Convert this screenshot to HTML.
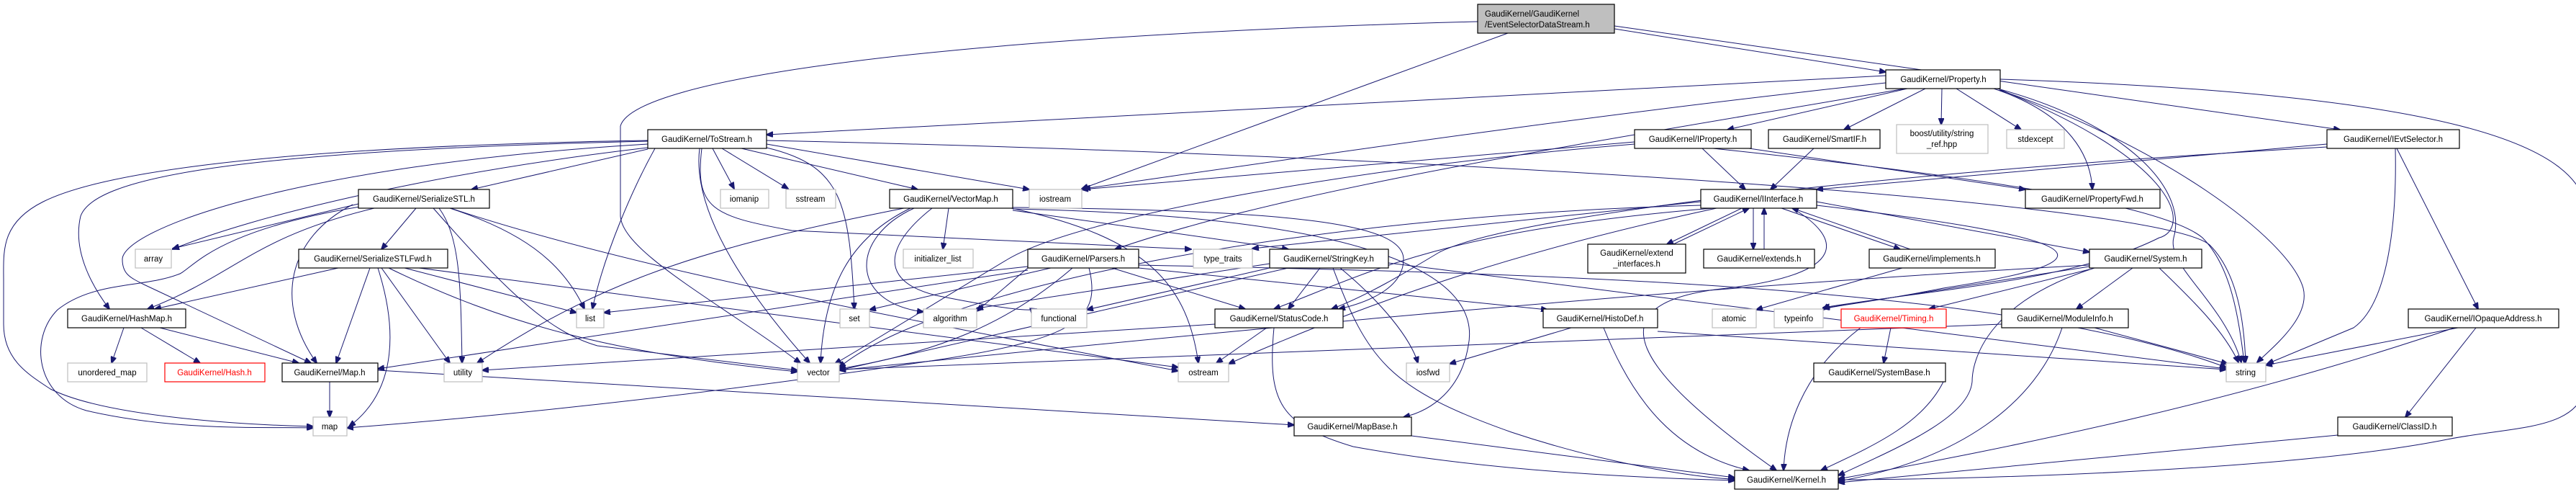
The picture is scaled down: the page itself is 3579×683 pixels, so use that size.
<!DOCTYPE html>
<html><head><meta charset="utf-8"><style>
html,body{margin:0;padding:0;background:#fff;}
svg{display:block;}
text{font-family:"Liberation Sans",sans-serif;font-size:11.5px;fill:#000;}
.n{fill:#fff;stroke:#000;stroke-width:1.2;}
.g{fill:#fff;stroke:#bfbfbf;stroke-width:1.2;}
.r{fill:#fff;stroke:#ff0000;stroke-width:1.2;}
.e path{fill:none;stroke:#191970;stroke-width:1;}
</style></head><body>
<svg width="3579" height="683" viewBox="0 0 3579 683" xmlns="http://www.w3.org/2000/svg">
<defs><marker id="a" markerUnits="userSpaceOnUse" markerWidth="10" markerHeight="8" refX="9" refY="4" orient="auto"><path d="M0,0 L10,4 L0,8 z" fill="#191970" stroke="#191970"/></marker></defs>
<g class="e" marker-end="url(#a)">
<path marker-end="url(#a)" d="M2243,40 L2620,100"/>
<path marker-end="url(#a)" d="M2243,36 L3251,180"/>
<path marker-end="url(#a)" d="M2095,46 L1503,262"/>
<path marker-end="url(#a)" d="M2053,30 C1300,50 880,110 862,175 L862,300 C865,350 1000,420 1112,504"/>
<path marker-end="url(#a)" d="M2620,105 L1065,187"/>
<path marker-end="url(#a)" d="M2650,123 L2400,180"/>
<path marker-end="url(#a)" d="M2675,123 L2562,180"/>
<path marker-end="url(#a)" d="M2698,123 L2697,173"/>
<path marker-end="url(#a)" d="M2718,123 L2808,180"/>
<path marker-end="url(#a)" d="M2770,123 C2880,160 2905,220 2907,263"/>
<path marker-end="url(#a)" d="M2779,110 C3400,130 3594,200 3594,300 L3594,520 C3594,600 3500,590 3400,610 C3200,650 2800,665 2554,666"/>
<path marker-end="url(#a)" d="M2775,123 C2950,170 3040,260 3020,330 C3010,370 3090,420 3114,503"/>
<path marker-end="url(#a)" d="M2778,125 C3000,200 3180,330 3200,400 C3210,440 3160,480 3136,503"/>
<path marker-end="url(#a)" d="M2780,125 C3040,230 3040,320 3000,330 C2880,390 2700,400 2533,427"/>
<path marker-end="url(#a)" d="M2647,123 C2200,200 1800,260 1549,346"/>
<path marker-end="url(#a)" d="M2620,115 C2200,160 1800,220 1506,262"/>
<path marker-end="url(#a)" d="M990,206 L1020,262"/>
<path marker-end="url(#a)" d="M1003,206 L1095,262"/>
<path marker-end="url(#a)" d="M1030,206 L1275,263"/>
<path marker-end="url(#a)" d="M1065,200 L1430,263"/>
<path marker-end="url(#a)" d="M1065,205 C1170,230 1180,280 1187,429"/>
<path marker-end="url(#a)" d="M972,206 C960,300 1050,420 1125,504"/>
<path marker-end="url(#a)" d="M975,206 C965,290 990,300 1100,320 L1655,346"/>
<path marker-end="url(#a)" d="M1065,195 C2000,215 3000,280 3070,340 C3110,380 3118,450 3120,503"/>
<path marker-end="url(#a)" d="M900,205 C600,240 350,300 240,346"/>
<path marker-end="url(#a)" d="M900,196 C300,210 130,250 112,300 C100,350 130,400 152,429"/>
<path marker-end="url(#a)" d="M900,195 C300,205 120,250 60,280 C0,310 5,350 5,390 L5,450 C5,500 40,520 70,540 C150,580 350,590 435,592"/>
<path marker-end="url(#a)" d="M900,200 C400,230 170,320 170,360 C170,380 180,385 200,395 L432,504"/>
<path marker-end="url(#a)" d="M900,207 L655,263"/>
<path marker-end="url(#a)" d="M910,206 C880,260 840,350 823,429"/>
<path marker-end="url(#a)" d="M1318,289 L1310,346"/>
<path marker-end="url(#a)" d="M1265,289 C1180,330 1145,400 1140,504"/>
<path marker-end="url(#a)" d="M1270,289 C1180,330 1180,420 1283,433"/>
<path marker-end="url(#a)" d="M1295,289 C1230,340 1220,390 1300,410 C1400,430 1430,432 1440,429"/>
<path marker-end="url(#a)" d="M1405,289 C1600,330 1650,400 1665,504"/>
<path marker-end="url(#a)" d="M1407,292 L1790,346"/>
<path marker-end="url(#a)" d="M1407,288 C1800,292 1950,310 1950,360 C1950,400 1900,420 1860,429"/>
<path marker-end="url(#a)" d="M1407,290 C1900,300 2060,380 2040,480 C2030,540 1990,570 1950,579"/>
<path marker-end="url(#a)" d="M1256,289 C1000,340 850,380 663,504"/>
<path marker-end="url(#a)" d="M578,289 L530,346"/>
<path marker-end="url(#a)" d="M498,283 L240,345"/>
<path marker-end="url(#a)" d="M500,287 C300,320 270,370 250,380 C200,400 130,390 80,430 C40,470 50,550 120,570 C250,600 380,592 435,594"/>
<path marker-end="url(#a)" d="M520,289 C350,330 330,380 205,429"/>
<path marker-end="url(#a)" d="M490,284 C400,330 380,420 440,504"/>
<path marker-end="url(#a)" d="M610,289 C640,330 640,400 642,504"/>
<path marker-end="url(#a)" d="M625,289 C720,320 780,360 812,429"/>
<path marker-end="url(#a)" d="M602,289 C700,400 760,460 830,480 L1108,514"/>
<path marker-end="url(#a)" d="M626,289 C900,380 1300,450 1637,515"/>
<path marker-end="url(#a)" d="M470,372 L215,429"/>
<path marker-end="url(#a)" d="M514,372 L467,504"/>
<path marker-end="url(#a)" d="M525,372 C550,450 555,540 485,592"/>
<path marker-end="url(#a)" d="M530,372 L625,504"/>
<path marker-end="url(#a)" d="M562,372 L801,434"/>
<path marker-end="url(#a)" d="M540,372 C700,450 850,490 1108,516"/>
<path marker-end="url(#a)" d="M582,372 L1637,510"/>
<path marker-end="url(#a)" d="M172,455 L155,504"/>
<path marker-end="url(#a)" d="M196,455 L278,504"/>
<path marker-end="url(#a)" d="M222,455 L415,504"/>
<path marker-end="url(#a)" d="M458,530 L458,579"/>
<path marker-end="url(#a)" d="M525,514 L1798,590"/>
<path marker-end="url(#a)" d="M1460,372 L1208,430"/>
<path marker-end="url(#a)" d="M1428,372 L1357,432"/>
<path marker-end="url(#a)" d="M1490,372 C1400,450 1300,490 1166,512"/>
<path marker-end="url(#a)" d="M1513,372 C1530,440 1500,470 1300,500 C900,560 600,585 482,594"/>
<path marker-end="url(#a)" d="M1428,370 L839,434"/>
<path marker-end="url(#a)" d="M1428,375 L525,512"/>
<path marker-end="url(#a)" d="M1545,372 L1730,429"/>
<path marker-end="url(#a)" d="M1582,372 L2150,430"/>
<path marker-end="url(#a)" d="M1582,368 C2200,380 2800,400 3093,510"/>
<path marker-end="url(#a)" d="M1764,372 L1510,430"/>
<path marker-end="url(#a)" d="M1764,366 L1357,428"/>
<path marker-end="url(#a)" d="M1790,372 L1166,514"/>
<path marker-end="url(#a)" d="M1834,372 L1790,429"/>
<path marker-end="url(#a)" d="M1862,372 C1920,420 1960,470 1970,504"/>
<path marker-end="url(#a)" d="M1852,372 C1900,500 1930,540 2100,600 C2250,650 2380,665 2410,665"/>
<path marker-end="url(#a)" d="M1929,365 L3093,512"/>
<path marker-end="url(#a)" d="M1760,455 L1690,504"/>
<path marker-end="url(#a)" d="M1688,450 L670,514"/>
<path marker-end="url(#a)" d="M1770,455 C1760,560 1780,590 1880,620 C2100,660 2350,665 2410,667"/>
<path marker-end="url(#a)" d="M2365,206 L2425,263"/>
<path marker-end="url(#a)" d="M2271,197 L1503,263"/>
<path marker-end="url(#a)" d="M2271,200 C1900,230 1500,300 1400,360 C1300,420 1220,470 1160,505"/>
<path marker-end="url(#a)" d="M2380,206 C2700,240 3000,280 3060,330 C3100,370 3110,440 3118,503"/>
<path marker-end="url(#a)" d="M2430,206 L2814,263"/>
<path marker-end="url(#a)" d="M2520,206 L2460,263"/>
<path marker-end="url(#a)" d="M3233,200 L2524,263"/>
<path marker-end="url(#a)" d="M3233,204 C2600,240 2100,300 2000,350 C1950,380 1900,410 1850,429"/>
<path marker-end="url(#a)" d="M3328,206 C3330,300 3320,420 3270,455 L3150,505"/>
<path marker-end="url(#a)" d="M3330,206 L3443,429"/>
<path marker-end="url(#a)" d="M2363,280 L1740,345"/>
<path marker-end="url(#a)" d="M2380,289 C2000,320 1900,380 1770,429"/>
<path marker-end="url(#a)" d="M2385,289 C2100,350 1900,420 1707,505"/>
<path marker-end="url(#a)" d="M2490,289 C2560,330 2570,380 2400,400 C2200,420 2280,520 2468,653"/>
<path marker-end="url(#a)" d="M2420,289 L2316,339"/>
<path marker-end="url(#a)" d="M2325,339 L2430,289"/>
<path marker-end="url(#a)" d="M2436,289 L2436,346"/>
<path marker-end="url(#a)" d="M2451,346 L2451,289"/>
<path marker-end="url(#a)" d="M2475,289 L2640,346"/>
<path marker-end="url(#a)" d="M2654,346 L2490,289"/>
<path marker-end="url(#a)" d="M2524,280 L2903,350"/>
<path marker-end="url(#a)" d="M2524,285 C2900,330 2960,360 2700,400 C2600,420 2540,425 2533,430"/>
<path marker-end="url(#a)" d="M2363,285 C1800,300 1300,400 1166,510"/>
<path marker-end="url(#a)" d="M2643,372 L2440,430"/>
<path marker-end="url(#a)" d="M2183,455 L2014,505"/>
<path marker-end="url(#a)" d="M2303,460 L3093,513"/>
<path marker-end="url(#a)" d="M2228,455 C2270,560 2330,630 2430,653"/>
<path marker-end="url(#a)" d="M2910,372 C2760,420 2740,500 2740,530 C2735,580 2640,620 2554,660"/>
<path marker-end="url(#a)" d="M2963,372 L2885,429"/>
<path marker-end="url(#a)" d="M3000,372 C3050,420 3090,460 3110,503"/>
<path marker-end="url(#a)" d="M2903,374 L2680,429"/>
<path marker-end="url(#a)" d="M2903,370 L2533,428"/>
<path marker-end="url(#a)" d="M2903,368 C2300,400 1600,470 1166,514"/>
<path marker-end="url(#a)" d="M2627,455 L2617,504"/>
<path marker-end="url(#a)" d="M2585,455 C2500,520 2480,600 2478,653"/>
<path marker-end="url(#a)" d="M2700,530 C2670,590 2600,620 2530,653"/>
<path marker-end="url(#a)" d="M2865,455 C2830,560 2720,640 2554,668"/>
<path marker-end="url(#a)" d="M2910,455 L3095,505"/>
<path marker-end="url(#a)" d="M2781,450 L1166,513"/>
<path marker-end="url(#a)" d="M3415,455 L3148,507"/>
<path marker-end="url(#a)" d="M3410,455 C3100,560 2800,620 2554,665"/>
<path marker-end="url(#a)" d="M3440,455 L3342,579"/>
<path marker-end="url(#a)" d="M3248,604 L2554,670"/>
<path marker-end="url(#a)" d="M1961,605 L2410,663"/>
</g>
<g text-anchor="middle">
<rect x="2053" y="6" width="190" height="40" fill="#bfbfbf" stroke="#000" stroke-width="1.2"/>
<text x="2063" y="23" text-anchor="start">GaudiKernel/GaudiKernel</text>
<text x="2063" y="38" text-anchor="start">/EventSelectorDataStream.h</text>
<rect class="n" x="2620" y="97" width="159" height="26"/><text x="2700" y="114">GaudiKernel/Property.h</text>
<rect class="n" x="900" y="180" width="165" height="26"/><text x="982" y="197">GaudiKernel/ToStream.h</text>
<rect class="n" x="2271" y="180" width="162" height="26"/><text x="2352" y="197">GaudiKernel/IProperty.h</text>
<rect class="n" x="2457" y="180" width="155" height="26"/><text x="2535" y="197">GaudiKernel/SmartIF.h</text>
<rect class="g" x="2635" y="173" width="127" height="40"/><text x="2698" y="189">boost/utility/string</text><text x="2698" y="204">_ref.hpp</text>
<rect class="g" x="2788" y="180" width="80" height="26"/><text x="2828" y="197">stdexcept</text>
<rect class="n" x="3233" y="180" width="184" height="26"/><text x="3325" y="197">GaudiKernel/IEvtSelector.h</text>
<rect class="n" x="498" y="263" width="182" height="26"/><text x="589" y="280">GaudiKernel/SerializeSTL.h</text>
<rect class="g" x="1001" y="263" width="67" height="26"/><text x="1034" y="280">iomanip</text>
<rect class="g" x="1092" y="263" width="69" height="26"/><text x="1126" y="280">sstream</text>
<rect class="n" x="1236" y="263" width="171" height="26"/><text x="1321" y="280">GaudiKernel/VectorMap.h</text>
<rect class="g" x="1430" y="263" width="73" height="26"/><text x="1466" y="280">iostream</text>
<rect class="n" x="2363" y="263" width="161" height="26"/><text x="2443" y="280">GaudiKernel/IInterface.h</text>
<rect class="n" x="2814" y="263" width="187" height="26"/><text x="2907" y="280">GaudiKernel/PropertyFwd.h</text>
<rect class="g" x="188" y="346" width="50" height="26"/><text x="213" y="363">array</text>
<rect class="n" x="415" y="346" width="207" height="26"/><text x="518" y="363">GaudiKernel/SerializeSTLFwd.h</text>
<rect class="g" x="1255" y="346" width="97" height="26"/><text x="1303" y="363">initializer_list</text>
<rect class="n" x="1428" y="346" width="154" height="26"/><text x="1505" y="363">GaudiKernel/Parsers.h</text>
<rect class="g" x="1658" y="346" width="82" height="26"/><text x="1699" y="363">type_traits</text>
<rect class="n" x="1764" y="346" width="165" height="26"/><text x="1846" y="363">GaudiKernel/StringKey.h</text>
<rect class="n" x="2206" y="339" width="136" height="40"/><text x="2274" y="355">GaudiKernel/extend</text><text x="2274" y="370">_interfaces.h</text>
<rect class="n" x="2367" y="346" width="154" height="26"/><text x="2444" y="363">GaudiKernel/extends.h</text>
<rect class="n" x="2597" y="346" width="175" height="26"/><text x="2684" y="363">GaudiKernel/implements.h</text>
<rect class="n" x="2903" y="346" width="156" height="26"/><text x="2981" y="363">GaudiKernel/System.h</text>
<rect class="n" x="94" y="429" width="164" height="26"/><text x="176" y="446">GaudiKernel/HashMap.h</text>
<rect class="g" x="801" y="429" width="38" height="26"/><text x="820" y="446">list</text>
<rect class="g" x="1167" y="429" width="41" height="26"/><text x="1187" y="446">set</text>
<rect class="g" x="1283" y="429" width="74" height="26"/><text x="1320" y="446">algorithm</text>
<rect class="g" x="1433" y="429" width="77" height="26"/><text x="1471" y="446">functional</text>
<rect class="n" x="1688" y="429" width="178" height="26"/><text x="1777" y="446">GaudiKernel/StatusCode.h</text>
<rect class="n" x="2144" y="429" width="159" height="26"/><text x="2223" y="446">GaudiKernel/HistoDef.h</text>
<rect class="g" x="2379" y="429" width="61" height="26"/><text x="2409" y="446">atomic</text>
<rect class="g" x="2465" y="429" width="68" height="26"/><text x="2499" y="446">typeinfo</text>
<rect class="r" x="2558" y="429" width="146" height="26"/><text x="2631" y="446" style="fill:#f00">GaudiKernel/Timing.h</text>
<rect class="n" x="2781" y="429" width="176" height="26"/><text x="2869" y="446">GaudiKernel/ModuleInfo.h</text>
<rect class="n" x="3346" y="429" width="209" height="26"/><text x="3450" y="446">GaudiKernel/IOpaqueAddress.h</text>
<rect class="g" x="94" y="504" width="110" height="26"/><text x="149" y="521">unordered_map</text>
<rect class="r" x="229" y="504" width="139" height="26"/><text x="298" y="521" style="fill:#f00">GaudiKernel/Hash.h</text>
<rect class="n" x="392" y="504" width="133" height="26"/><text x="458" y="521">GaudiKernel/Map.h</text>
<rect class="g" x="617" y="504" width="53" height="26"/><text x="643" y="521">utility</text>
<rect class="g" x="1108" y="504" width="58" height="26"/><text x="1137" y="521">vector</text>
<rect class="g" x="1637" y="504" width="70" height="26"/><text x="1672" y="521">ostream</text>
<rect class="g" x="1954" y="504" width="60" height="26"/><text x="1984" y="521">iosfwd</text>
<rect class="n" x="2520" y="504" width="183" height="26"/><text x="2611" y="521">GaudiKernel/SystemBase.h</text>
<rect class="g" x="3093" y="504" width="55" height="26"/><text x="3120" y="521">string</text>
<rect class="g" x="435" y="579" width="47" height="26"/><text x="458" y="596">map</text>
<rect class="n" x="1798" y="579" width="163" height="26"/><text x="1879" y="596">GaudiKernel/MapBase.h</text>
<rect class="n" x="3248" y="579" width="159" height="26"/><text x="3327" y="596">GaudiKernel/ClassID.h</text>
<rect class="n" x="2410" y="653" width="144" height="26"/><text x="2482" y="670">GaudiKernel/Kernel.h</text>
</g>
</svg>
</body></html>
